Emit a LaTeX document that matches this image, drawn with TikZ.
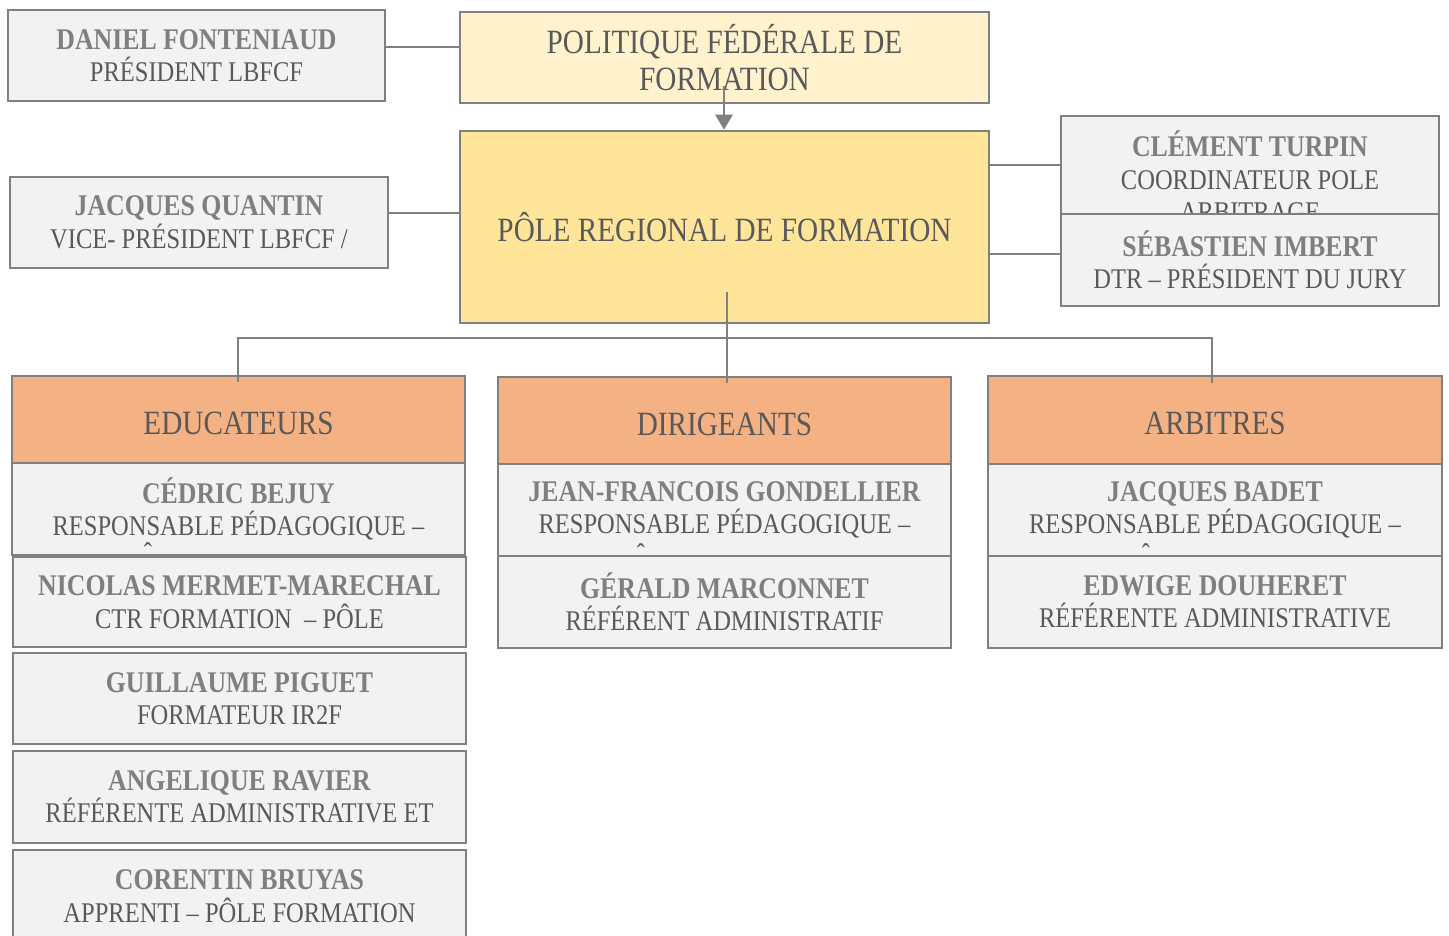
\documentclass[tikz,border=0pt]{standalone}
\usepackage{fontspec}
\setmainfont{Liberation Serif}[FakeStretch=0.86]
\usetikzlibrary{arrows.meta}

\definecolor{edge}{HTML}{808080}
\definecolor{namegrey}{HTML}{7F7F7F}
\definecolor{rolegrey}{HTML}{595959}
\definecolor{boxfill}{HTML}{F2F2F2}
\definecolor{lightgold}{HTML}{FFF2CC}
\definecolor{gold}{HTML}{FFE599}
\definecolor{peach}{HTML}{F4B183}

\tikzset{
  box/.style={draw=edge, line width=2.5pt, fill=boxfill, align=center, inner sep=0pt,
    text=rolegrey, font=\fontsize{28.5}{32.5}\selectfont},
  titlebox/.style={box, font=\fontsize{34}{37}\selectfont},
  headbox/.style={titlebox, fill=peach, minimum width=453pt, minimum height=87pt,
    text height=29pt, text depth=0pt},
  card/.style={box, minimum width=453pt, minimum height=92pt},
  link/.style={draw=edge, line width=2.5pt},
  hat/.style={anchor=base, text=rolegrey, font=\fontsize{28.5}{32.5}\selectfont, inner sep=0pt},
}

\begin{document}
\begin{tikzpicture}[x=1pt, y=-1pt]
\useasboundingbox (0,0) rectangle (1449,936);

% haut
\node[box, minimum width=377pt, minimum height=91pt] (daniel) at (196.5,55.5)
  {{\fontsize{30}{32.5}\selectfont\bfseries\color{namegrey}DANIEL FONTENIAUD}\\PRÉSIDENT LBFCF};
\node[titlebox, fill=lightgold, minimum width=529pt, minimum height=91pt] (politique) at (724.5,57.5)
  {POLITIQUE FÉDÉRALE DE\\FORMATION};
\node[titlebox, fill=gold, minimum width=529pt, minimum height=192pt] (pole) at (724.5,227)
  {PÔLE REGIONAL DE FORMATION};
\node[box, minimum width=378pt, minimum height=91pt] (quantin) at (199,222.5)
  {{\fontsize{30}{32.5}\selectfont\bfseries\color{namegrey}JACQUES QUANTIN}\\VICE- PRÉSIDENT LBFCF /};

\node[box, minimum width=378pt, minimum height=98pt] (turpin) at (1250,165) {};
\begin{scope}
  \clip (turpin.south west) rectangle (turpin.north east);
  \node[anchor=north, align=center, text=rolegrey, font=\fontsize{28.5}{32.5}\selectfont, inner sep=0pt]
    (turpintxt) at ([yshift=-16pt]turpin.north)
    {{\fontsize{30}{32.5}\selectfont\bfseries\color{namegrey}CLÉMENT TURPIN}\\COORDINATEUR POLE\\ARBITRAGE};
\end{scope}
\node[box, minimum width=378pt, minimum height=92pt] (imbert) at (1250,260)
  {{\fontsize{30}{32.5}\selectfont\bfseries\color{namegrey}SÉBASTIEN IMBERT}\\DTR – PRÉSIDENT DU JURY};

% educateurs
\node[headbox] (educ) at (238.5,419.5) {EDUCATEURS};
\node[card] (bejuy) at (238.5,509)
  {{\fontsize{30}{32.5}\selectfont\bfseries\color{namegrey}CÉDRIC BEJUY}\\RESPONSABLE PÉDAGOGIQUE –};
\node[card, minimum height=90pt] (mermet) at (239.5,602)
  {{\fontsize{30}{32.5}\selectfont\bfseries\color{namegrey}NICOLAS MERMET-MARECHAL}\\CTR FORMATION \ – PÔLE};
\node[card, minimum height=91pt] (piguet) at (239.5,698.5)
  {{\fontsize{30}{32.5}\selectfont\bfseries\color{namegrey}GUILLAUME PIGUET}\\FORMATEUR IR2F};
\node[card] (ravier) at (239.5,797)
  {{\fontsize{30}{32.5}\selectfont\bfseries\color{namegrey}ANGELIQUE RAVIER}\\RÉFÉRENTE ADMINISTRATIVE ET};
\node[card] (bruyas) at (239.5,896)
  {{\fontsize{30}{32.5}\selectfont\bfseries\color{namegrey}CORENTIN BRUYAS}\\APPRENTI – PÔLE FORMATION};

% dirigeants
\node[headbox] (dirig) at (724.5,420.5) {DIRIGEANTS};
\node[card] (gondel) at (724.5,510)
  {{\fontsize{30}{32.5}\selectfont\bfseries\color{namegrey}JEAN-FRANCOIS GONDELLIER}\\RESPONSABLE PÉDAGOGIQUE –};
\node[card] (marcon) at (724.5,602)
  {{\fontsize{30}{32.5}\selectfont\bfseries\color{namegrey}GÉRALD MARCONNET}\\RÉFÉRENT ADMINISTRATIF};

% arbitres
\node[headbox, minimum width=454pt, minimum height=88pt] (arbit) at (1215,420) {ARBITRES};
\node[card, minimum width=454pt] (badet) at (1215,510)
  {{\fontsize{30}{32.5}\selectfont\bfseries\color{namegrey}JACQUES BADET}\\RESPONSABLE PÉDAGOGIQUE –};
\node[card, minimum width=454pt] (douher) at (1215,602)
  {{\fontsize{30}{32.5}\selectfont\bfseries\color{namegrey}EDWIGE DOUHERET}\\RÉFÉRENTE ADMINISTRATIVE};

\node[hat] (bejuyhat) at (148,562) {ˆ};
\node[hat] (gondelhat) at (641,563) {ˆ};
\node[hat] (badethat) at (1146,563) {ˆ};

% liens
\draw[link] ([yshift=8.5pt]daniel.east) -- ([yshift=8.5pt]daniel.east -| politique.west);
\draw[link] ([yshift=9.5pt]quantin.east) -- ([yshift=9.5pt]quantin.east -| pole.west);
\draw[link] (turpin.west -| pole.east) -- (turpin.west);
\draw[link] ([yshift=6pt]imbert.west -| pole.east) -- ([yshift=6pt]imbert.west);

\coordinate (polestart) at (724,86);
\draw[link, -{Triangle[length=15pt, width=17pt]}] (polestart) -- (polestart |- pole.north);

\coordinate (trunk) at (727,292);
\coordinate (fork) at (727,338);
\coordinate (educin) at (238,382);
\coordinate (dirigin) at (727,383);
\coordinate (arbitin) at (1212,383);
\draw[link] (trunk) -- (dirigin);
\draw[link] (educin) |- (fork) -| (arbitin);

\end{tikzpicture}
\end{document}
